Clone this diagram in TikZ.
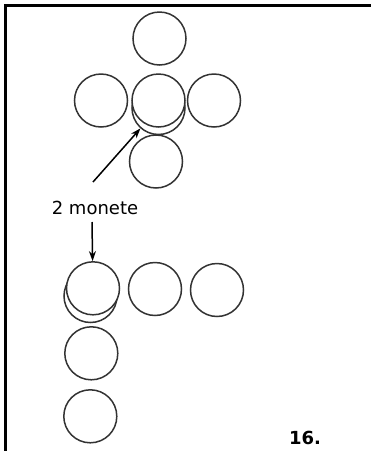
\documentclass[tikz,border=0pt]{standalone}
\usepackage{fontspec}
\setmainfont{DejaVu Sans}
\usetikzlibrary{arrows.meta}
\begin{document}
\begin{tikzpicture}[x=1pt,y=-1pt,
  coin/.style={circle,draw=black!80,line width=1.5pt,fill=white,minimum size=53pt,inner sep=0pt},
  arr/.style={line width=1.5pt,-{Stealth[length=10pt,width=7pt]}},
  lbl/.style={inner sep=0pt,font=\fontsize{18}{20}\selectfont}]
\useasboundingbox (0,0) rectangle (371,451);
\draw[line width=2.6pt] (371,5.5) -- (5.5,5.5) -- (5.5,451);
% upper group
\node[coin] (ut) at (159.5,38.5) {};
\node[coin] (ul) at (101,100.5) {};
\node[coin] (ur) at (214,100.5) {};
\node[coin] (ub) at (156,161.5) {};
\node[coin] (uback) at (158.5,108) {};
\node[coin] (uc) at (158.5,100.5) {};
% label
\node[lbl] (t) at (95,207.5) {2 monete};
\coordinate (a1) at (93,182);
\coordinate (a2) at (92,222);
% lower group
\node[coin] (l2) at (155,289) {};
\node[coin] (l3) at (217,290) {};
\node[coin] (l4) at (91.3,353.3) {};
\node[coin] (l5) at (90.3,416.3) {};
\node[coin] (lback) at (90.5,296) {};
\node[coin] (l1) at (93,288.3) {};
% arrows
\draw[arr] (a1) -- (uback);
\draw[arr] (a2) -- (l1);
% number
\node[lbl,font=\fontsize{18}{20}\selectfont\bfseries] (n) at (305,437.5) {16.};
\end{tikzpicture}
\end{document}
